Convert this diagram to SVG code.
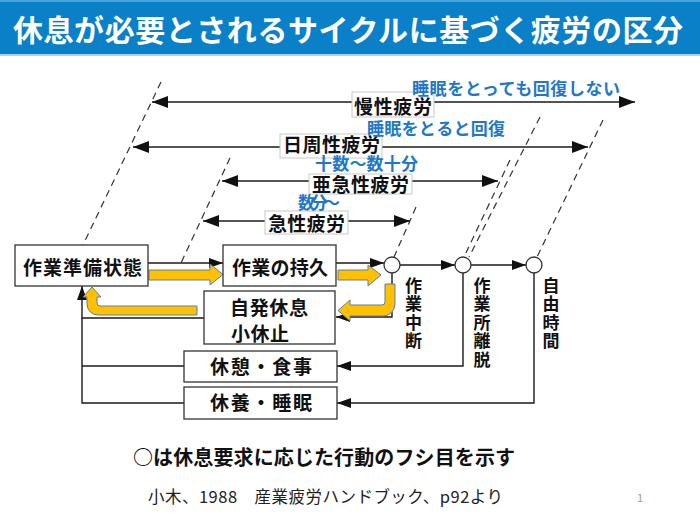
<svg xmlns="http://www.w3.org/2000/svg" width="700" height="515" viewBox="0 0 700 515">
<style>
text{font-family:"Noto Sans CJK JP","Noto Sans CJK SC",sans-serif;}
.box{fill:#fff;stroke:#333;stroke-width:1.3;}
.bt{font-size:19px;font-weight:bold;fill:#111;}
.vt{font-size:17px;font-weight:bold;fill:#111;writing-mode:vertical-rl;letter-spacing:1.5px;}
.lbl{fill:#fff;stroke:#c8c8c8;stroke-width:1;}
.lt{font-size:19px;font-weight:bold;fill:#111;}
.blue{font-size:17px;font-weight:bold;fill:#1f77c9;}
.ln{fill:none;stroke:#1a1a1a;stroke-width:1.4;}
.dash{fill:none;stroke:#333;stroke-width:1.2;stroke-dasharray:7 5;}
.yel{fill:#ffc000;stroke:#5a7fae;stroke-width:1;}
.circ{fill:#fff;stroke:#333;stroke-width:1.3;}
</style>
<defs>
<marker id="ah" viewBox="0 0 16 12" markerWidth="16" markerHeight="12" refX="16" refY="6" orient="auto-start-reverse" markerUnits="userSpaceOnUse"><path d="M0,0 L16,6 L0,12 Z" fill="#111"/></marker>
<marker id="as" viewBox="0 0 14 10" markerWidth="14" markerHeight="10" refX="14" refY="5" orient="auto-start-reverse" markerUnits="userSpaceOnUse"><path d="M0,0 L14,5 L0,10 Z" fill="#111"/></marker>
</defs>

<!-- title -->
<rect x="0" y="0" width="700" height="55" fill="#0a80c8"/>
<rect x="0" y="0" width="700" height="2" fill="#4aa3dc"/>
<rect x="0" y="54" width="700" height="2" fill="#a8d2ee"/>
<text x="13" y="41" font-size="30" font-weight="bold" fill="#fff" textLength="670">休息が必要とされるサイクルに基づく疲労の区分</text>

<!-- dashed guide lines -->
<g id="guides">
<path class="dash" d="M161,82 L83,245"/>
<path class="dash" d="M230,158 L181,263"/>
<path class="dash" d="M416,207 L394,257"/>
<path class="dash" d="M510,160 L464,257"/>
<path class="dash" d="M540,117 L469,257"/>
<path class="dash" d="M603,120 L537,257"/>
</g>

<!-- duration arrows -->
<g id="durations">
<path class="ln" d="M152,102 H635" marker-start="url(#ah)" marker-end="url(#ah)"/>
<path class="ln" d="M133,147 H588" marker-start="url(#ah)" marker-end="url(#ah)"/>
<path class="ln" d="M222,181 H498" marker-start="url(#ah)" marker-end="url(#ah)"/>
<path class="ln" d="M203,221 H410" marker-start="url(#ah)" marker-end="url(#ah)"/>
</g>
<g id="label-mansei"><rect class="lbl" x="352" y="92" width="82" height="25"/><text class="lt" x="354" y="114" font-size="20" textLength="78">慢性疲労</text></g>
<g id="label-nisshu"><rect class="lbl" x="280" y="134" width="102" height="24"/><text class="lt" x="283" y="152" textLength="97">日周性疲労</text></g>
<g id="label-akyu"><rect class="lbl" x="309" y="174" width="103" height="20"/><text class="lt" x="312" y="191.5" textLength="97">亜急性疲労</text></g>
<g id="label-kyu"><rect class="lbl" x="265" y="211" width="83" height="23"/><text class="lt" x="268" y="231" textLength="77">急性疲労</text></g>
<text class="blue" x="412" y="95" textLength="208">睡眠をとっても回復しない</text>
<text class="blue" x="367" y="135" font-size="17.5" textLength="138">睡眠をとると回復</text>
<text class="blue" x="315" y="170" textLength="103">十数～数十分</text>
<text class="blue" x="298" y="208.5" font-size="15" textLength="42">数分～</text>

<!-- connectors -->
<g id="connectors">
<path class="ln" d="M148,263 H223" marker-end="url(#as)"/>
<path class="ln" d="M336,263 H384" marker-end="url(#as)"/>
<path class="ln" d="M400,265 H455" marker-end="url(#as)"/>
<path class="ln" d="M471,265 H526" marker-end="url(#as)"/>
<path class="ln" d="M392,273 V317 H336" marker-end="url(#as)"/>
<path class="ln" d="M463,273 V366 H337" marker-end="url(#as)"/>
<path class="ln" d="M534,273 V403 H337" marker-end="url(#as)"/>
<path class="ln" d="M204,318 H82 V286" marker-end="url(#as)"/>
<path class="ln" d="M184,366 H82"/>
<path class="ln" d="M184,403 H82 V318"/>
<path class="yel" d="M149,270 H210 V264 L223,274.5 L210,285 V280 H149 Z"/>
<path class="yel" d="M338,270 H368 V265 L381,275 L368,286 V280 H338 Z"/>
<path class="yel" d="M385,284 H395 V304 A12,12 0 0 1 383,316 H350 V321 L338,310.5 L350,300 V305 H382 A3,3 0 0 0 385,302 Z"/>
<path class="yel" d="M197,306 V315 H98 A11,11 0 0 1 87,304 V297 H83 L92,287 L101,297 H97 V303 A3,3 0 0 0 100,306 Z"/>
</g>

<!-- nodes -->
<g id="n-junbi"><rect class="box" x="15" y="245" width="133" height="41"/><text class="bt" x="23" y="275" textLength="119">作業準備状態</text></g>
<g id="n-jikyu"><rect class="box" x="223" y="245" width="113" height="41"/><text class="bt" x="232" y="275" textLength="96">作業の持久</text></g>
<g id="n-jihatsu"><rect class="box" x="204" y="291" width="131" height="53"/><text class="bt" x="230" y="315" textLength="78">自発休息</text><text class="bt" x="231" y="341" textLength="58">小休止</text></g>
<g id="n-kyukei"><rect class="box" x="184" y="351" width="153" height="31"/><text class="bt" x="210" y="374" textLength="102">休憩・食事</text></g>
<g id="n-kyuyo"><rect class="box" x="184" y="387" width="153" height="32"/><text class="bt" x="210" y="410" textLength="102">休養・睡眠</text></g>
<g id="c1"><circle class="circ" cx="392" cy="265" r="8"/></g>
<g id="c2"><circle class="circ" cx="463" cy="265" r="8"/></g>
<g id="c3"><circle class="circ" cx="534" cy="265" r="8"/></g>
<g id="v-chudan"><text class="vt" x="413.5" y="277">作業中断</text></g>
<g id="v-ridatsu"><text class="vt" x="482" y="277">作業所離脱</text></g>
<g id="v-jiyu"><text class="vt" x="551" y="277">自由時間</text></g>

<!-- footer -->
<text x="133" y="465" font-size="20" font-weight="bold" fill="#111" textLength="382">○は休息要求に応じた行動のフシ目を示す</text>
<text x="148" y="503" font-size="16.5" fill="#222" textLength="355">小木、1988　産業疲労ハンドブック、p92より</text>
<text x="637" y="502" font-size="11" fill="#999">1</text>
</svg>
